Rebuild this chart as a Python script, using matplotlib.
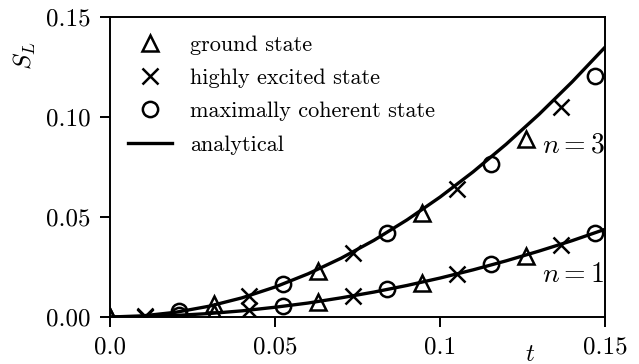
import matplotlib
matplotlib.use("Agg")
import matplotlib.pyplot as plt
import numpy as np
from matplotlib.lines import Line2D

plt.rcParams['font.family'] = 'serif'
plt.rcParams['font.serif'] = ['cmr10']
plt.rcParams['mathtext.fontset'] = 'cm'
plt.rcParams['axes.formatter.use_mathtext'] = True

# simulation points (t values and S_L)
t_pts = [0.0, 0.0105, 0.021, 0.0315, 0.042, 0.0525, 0.063, 0.0735,
         0.084, 0.0945, 0.105, 0.1155, 0.126, 0.1365, 0.147]
s_n3 = [0.0, 0.0007, 0.0030, 0.0064, 0.0103, 0.0167, 0.0232, 0.0318,
        0.0418, 0.0520, 0.0642, 0.0765, 0.0890, 0.1050, 0.1205]
s_n1 = [0.0, 0.0002, 0.0009, 0.0019, 0.0035, 0.0055, 0.0074, 0.0105,
        0.0141, 0.0172, 0.0216, 0.0263, 0.0303, 0.0360, 0.0418]
markers = ['^', 'x', 'o']  # ground, highly excited, maximally coherent

# analytical curves
t_line = [0.0, 0.01, 0.02, 0.03, 0.04, 0.05, 0.06, 0.07, 0.08,
          0.09, 0.10, 0.11, 0.12, 0.13, 0.14, 0.15]
a_n3 = [0.0, 0.0006, 0.0024, 0.0054, 0.0096, 0.0150, 0.0216, 0.0294,
        0.0384, 0.0486, 0.0600, 0.0726, 0.0864, 0.1014, 0.1176, 0.1350]
a_n1 = [0.0, 0.0002, 0.0008, 0.00175, 0.0031, 0.0049, 0.0070, 0.0096,
        0.0125, 0.0158, 0.0195, 0.0236, 0.0281, 0.0330, 0.0382, 0.0439]

labels = ['ground state', 'highly excited state', 'maximally coherent state', 'analytical']
xticks = [0.0, 0.05, 0.1, 0.15]
xticklabels = ['0.0', '0.05', '0.1', '0.15']
yticks = [0.0, 0.05, 0.10, 0.15]
yticklabels = ['0.00', '0.05', '0.10', '0.15']

fig = plt.figure(figsize=(3.195, 1.82), dpi=200)
ax = fig.add_axes([0.172, 0.129, 0.775, 0.824])

ax.plot(t_line, a_n3, color='black', lw=1.2, zorder=2)
ax.plot(t_line, a_n1, color='black', lw=1.2, zorder=2)

t_arr = np.array(t_pts)
for k, m in enumerate(markers):
    idx = np.arange(k, len(t_pts), 3)
    for s in (s_n3, s_n1):
        ax.plot(t_arr[idx], np.array(s)[idx], linestyle='none', marker=m,
                markersize=5.5, markerfacecolor='none',
                markeredgecolor='black', markeredgewidth=0.9, zorder=3)

handles = [Line2D([], [], linestyle='none', marker='^', markersize=5.5,
                  markerfacecolor='none', markeredgecolor='black', markeredgewidth=0.9),
           Line2D([], [], linestyle='none', marker='x', markersize=5.5,
                  markeredgecolor='black', markeredgewidth=0.9),
           Line2D([], [], linestyle='none', marker='o', markersize=5.5,
                  markerfacecolor='none', markeredgecolor='black', markeredgewidth=0.9),
           Line2D([], [], color='black', lw=1.2)]
ax.legend(handles, labels, loc='upper left', frameon=False, fontsize=8,
          labelspacing=0.62, handlelength=2.0, handletextpad=0.8,
          borderaxespad=0.0, bbox_to_anchor=(0.018, 0.97))

ax.text(0.1497, 0.086, '$n=3$', ha='right', va='center', fontsize=10)
ax.text(0.1497, 0.021, '$n=1$', ha='right', va='center', fontsize=10)

ax.set_xlim(0, 0.15)
ax.set_ylim(0, 0.15)
ax.set_xticks(xticks)
ax.set_xticklabels(xticklabels)
ax.set_yticks(yticks)
ax.set_yticklabels(yticklabels)
ax.tick_params(labelsize=9, length=3.5, width=0.7, direction='out')
for sp in ax.spines.values():
    sp.set_linewidth(0.7)

ax.set_xlabel('$t$', fontsize=9)
ax.xaxis.set_label_coords(0.848, -0.09)
ax.set_ylabel('$S_L$', fontsize=9)
ax.yaxis.set_label_coords(-0.145, 0.87)

fig.savefig('out.png', dpi=200)
